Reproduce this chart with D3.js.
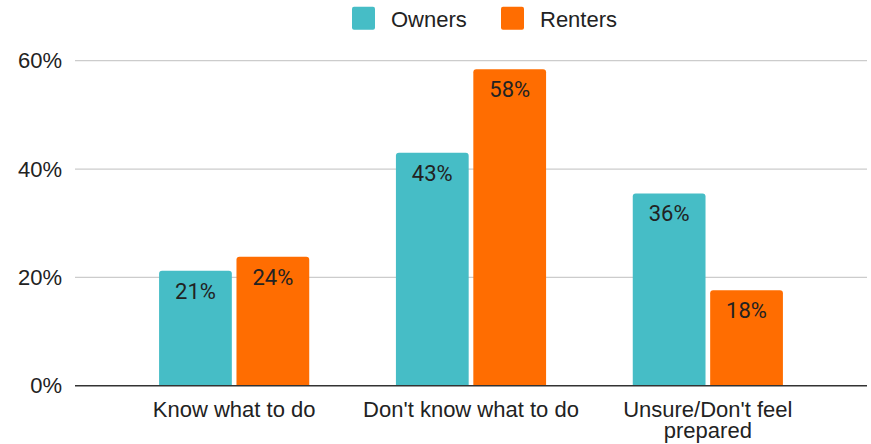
<!DOCTYPE html>
<html>
<head>
<meta charset="utf-8">
<script src="https://cdn.jsdelivr.net/npm/d3@7"></script>
<style>
  html, body { margin: 0; padding: 0; background: #fff; }
  svg { display: block; }
</style>
</head>
<body>
<svg id="chart" width="871" height="444"></svg>
<script>
const categories = ["Know what to do", "Don't know what to do", "Unsure/Don't feel prepared"];
const seriesNames = ["Owners", "Renters"];
const owners = [21.2, 43.0, 35.5];
const renters = [23.8, 58.4, 17.6];
const labelsOwners = ["21%", "43%", "36%"];
const labelsRenters = ["24%", "58%", "18%"];
const yTicks = [0, 20, 40, 60];
const colors = ["#46bdc6", "#ff6d01"];

(function() {
const plotLeft = 75, plotRight = 867, plotTop = 60.7, plotBottom = 385.7;
const svg = d3.select("#chart");
const axisFont = "'Liberation Sans', Arial, sans-serif";
const labelFont = "Roboto, 'Liberation Sans', sans-serif";

const y = d3.scaleLinear().domain([0, 60]).range([plotBottom, plotTop]);
const x0 = d3.scaleBand().domain(categories).range([plotLeft, plotRight])
  .paddingInner(0.366).paddingOuter(0.355);
const x1 = d3.scaleBand().domain(seriesNames).range([0, x0.bandwidth()]).paddingInner(0.06);

// gridlines
svg.append("g").selectAll("line").data(yTicks.filter(d => d !== 0)).join("line")
  .attr("x1", plotLeft).attr("x2", plotRight)
  .attr("y1", d => y(d)).attr("y2", d => y(d))
  .attr("stroke", "#cccccc").attr("stroke-width", 1.2);

// y labels
svg.append("g").selectAll("text").data(yTicks).join("text")
  .attr("x", 62).attr("y", d => y(d) + 7.7)
  .attr("text-anchor", "end")
  .attr("font-family", axisFont).attr("font-size", 22).attr("fill", "#222")
  .text(d => d + "%");

const data = categories.map((c, i) => ({
  cat: c,
  vals: [
    { s: "Owners", v: owners[i], label: labelsOwners[i], color: colors[0] },
    { s: "Renters", v: renters[i], label: labelsRenters[i], color: colors[1] }
  ]
}));

function topRounded(x, yTop, w, h, r) {
  r = Math.min(r, h, w / 2);
  return `M${x},${yTop + h}V${yTop + r}Q${x},${yTop} ${x + r},${yTop}H${x + w - r}Q${x + w},${yTop} ${x + w},${yTop + r}V${yTop + h}Z`;
}

const groups = svg.append("g").selectAll("g").data(data).join("g")
  .attr("transform", d => `translate(${x0(d.cat)},0)`);

groups.selectAll("path").data(d => d.vals).join("path")
  .attr("d", d => topRounded(x1(d.s), y(d.v), x1.bandwidth(), plotBottom - y(d.v), 3))
  .attr("fill", d => d.color);

groups.selectAll("text").data(d => d.vals).join("text")
  .attr("x", d => x1(d.s) + x1.bandwidth() / 2)
  .attr("y", d => y(d.v) + 28)
  .attr("text-anchor", "middle")
  .attr("font-family", labelFont).attr("font-size", 22).attr("fill", "#222")
  .text(d => d.label);

// baseline
svg.append("line").attr("x1", plotLeft).attr("x2", plotRight)
  .attr("y1", y(0)).attr("y2", y(0))
  .attr("stroke", "#333").attr("stroke-width", 1.6);

// x labels with wrapping
const xl = svg.append("g").selectAll("text").data(categories).join("text")
  .attr("x", d => x0(d) + x0.bandwidth() / 2)
  .attr("y", 416.5)
  .attr("text-anchor", "middle")
  .attr("font-family", axisFont).attr("font-size", 22).attr("fill", "#222");

xl.each(function(d) {
  const t = d3.select(this);
  const words = d.split(" ");
  const maxW = x0.step();
  let line = [];
  let tspan = t.append("tspan").attr("x", t.attr("x")).attr("dy", 0);
  for (const w of words) {
    line.push(w);
    tspan.text(line.join(" "));
    if (tspan.node().getComputedTextLength() > maxW && line.length > 1) {
      line.pop();
      tspan.text(line.join(" "));
      line = [w];
      tspan = t.append("tspan").attr("x", t.attr("x")).attr("dy", 21).text(w);
    }
  }
});

// legend
const legend = svg.append("g");
const legendX = [352, 501];
seriesNames.forEach((s, i) => {
  legend.append("rect").attr("x", legendX[i]).attr("y", 6.7).attr("width", 23).attr("height", 23)
    .attr("rx", 2).attr("fill", colors[i]);
  legend.append("text").attr("x", legendX[i] + 39).attr("y", 26.7)
    .attr("font-family", axisFont).attr("font-size", 22).attr("fill", "#222")
    .text(s);
});
})();
</script>
</body>
</html>
